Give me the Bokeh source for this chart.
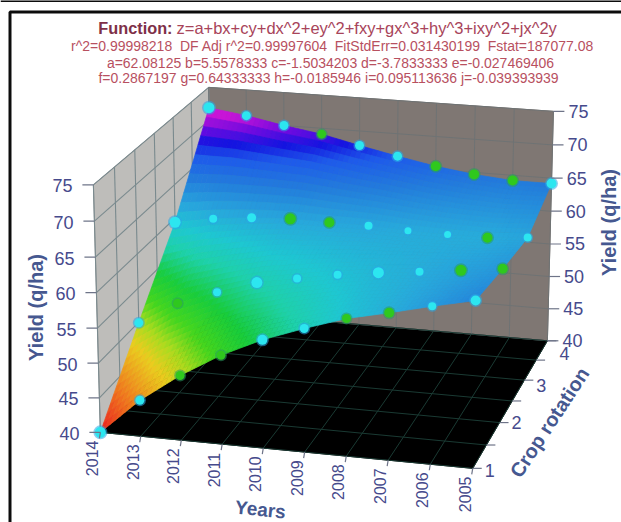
import numpy as np
from bokeh.plotting import figure
from bokeh.models import Range1d
from bokeh.core.properties import value
from bokeh.embed import file_html
from bokeh.resources import INLINE

# ---------- data ----------
years = [2014, 2013, 2012, 2011, 2010, 2009, 2008, 2007, 2006, 2005]
rotations = [1, 2, 3, 4]
z_ticks = [40, 45, 50, 55, 60, 65, 70, 75]
yield_rot1 = [40.0, 45.2, 49.3, 52.7, 55.4, 57.5, 59.4, 60.7, 62.1, 63.4]
yield_rot2 = [49.9, 53.3, 55.4, 57.3, 58.4, 59.4, 60.2, 60.8, 61.5, 62.2]
yield_rot3 = [59.4, 60.4, 61.0, 61.3, 61.2, 61.2, 60.9, 60.8, 60.8, 61.3]
yield_rot4 = [71.9, 71.1, 70.0, 69.1, 67.8, 66.6, 65.5, 64.7, 64.2, 64.2]
title_main = "z=a+bx+cy+dx^2+ey^2+fxy+gx^3+hy^3+ixy^2+jx^2y"
title_lines = [
    "r^2=0.99998218\u00a0\u00a0DF Adj r^2=0.99997604\u00a0\u00a0FitStdErr=0.031430199\u00a0\u00a0Fstat=187077.08",
    "a=62.08125 b=5.5578333 c=-1.5034203 d=-3.7833333 e=-0.027469406",
    "f=0.2867197 g=0.64333333 h=-0.0185946 i=0.095113636 j=-0.039393939",
]

# ---------- styles ----------
kind_rot1 = list("ccggccggcc")
kind_rot2 = list("cgccccccgg")
kind_rot3 = list("cccggcccgc")
kind_rot4 = list("cccgccgggc")
size_rot1 = [11, 9, 9, 9, 10, 9, 9, 10, 8, 10]
size_rot2 = [9, 9, 8, 11, 8, 8, 11, 8, 11, 10]
size_rot3 = [11, 8, 9, 11, 10, 8, 7, 7, 10, 8]
size_rot4 = [11, 9, 9, 9, 9, 9, 10, 10, 10, 10]
TEXT = "#464A8C"
TITLE_TEXT = "#465890"
RED_DARK = "#7E3048"
RED_MID = "#A8445A"
RED_LIGHT = "#B8505F"

# camera: where the corners of the box sit on the page
cal_world = [(0, 0, 0), (0, 0, 1), (9, 0, 0), (9, 3, 0), (9, 3, 1), (0, 3, 1)]
cal_px = [(100, 432), (93, 184), (472, 468), (547, 340), (553, 111), (208, 87)]
A, b = [], []
for (u, v, w), (x, y) in zip(cal_world, cal_px):
    A.append([u, v, w, 1, 0, 0, 0, 0, -x*u, -x*v, -x*w]); b.append(x)
    A.append([0, 0, 0, 0, u, v, w, 1, -y*u, -y*v, -y*w]); b.append(y)
sol = np.linalg.lstsq(np.array(A, float), np.array(b, float), rcond=None)[0]
P = np.append(sol, 1).reshape(3, 4)


def proj(u, v, z):
    """year index u, rotation index v, yield z -> page position"""
    w = (np.asarray(z, float) - 40) / 35
    u = np.asarray(u, float); v = np.asarray(v, float)
    hx = P[0, 0]*u + P[0, 1]*v + P[0, 2]*w + P[0, 3]
    hy = P[1, 0]*u + P[1, 1]*v + P[1, 2]*w + P[1, 3]
    hz = P[2, 0]*u + P[2, 1]*v + P[2, 2]*w + P[2, 3]
    return hx/hz, hy/hz


def seg(a, c):
    xa, ya = proj(*a)
    xc, yc = proj(*c)
    return [float(xa), float(xc)], [float(ya), float(yc)]


def poly(*pts):
    xy = [proj(*q) for q in pts]
    return [float(q[0]) for q in xy], [float(q[1]) for q in xy]


p = figure(width=621, height=522, x_range=Range1d(0, 621), y_range=Range1d(522, 0),
           output_backend="svg", toolbar_location=None, x_axis_type=None, y_axis_type=None,
           min_border=0, outline_line_color=None, background_fill_color="white",
           border_fill_color="white")
p.grid.visible = False

nu, nv = len(years) - 1, len(rotations) - 1

# frame
p.line([9.5, 9.5, 621], [522, 11.5, 11.5], line_color="#0c0c0c", line_width=3)
p.line([0, 621], [0.5, 0.5], line_color="#0c0c0c", line_width=2)

# walls and floor
xs, ys = poly((0, nv, 40), (nu, nv, 40), (nu, nv, 75), (0, nv, 75))
p.patch(xs, ys, fill_color="#7F7773", line_color="#7F7773")
xs, ys = poly((0, 0, 40), (0, nv, 40), (0, nv, 75), (0, 0, 75))
p.patch(xs, ys, fill_color="#BEBDBA", line_color="#9A9A9A")
xs, ys = poly((0, 0, 40), (nu, 0, 40), (nu, nv, 40), (0, nv, 40))
p.patch(xs, ys, fill_color="black", line_color="black")

# wall grids
half = np.arange(0, nv + 0.01, 0.5)
gx, gy = [], []
for v in half:
    a, c = seg((0, v, 40), (0, v, 75)); gx.append(a); gy.append(c)
for z in z_ticks:
    a, c = seg((0, 0, z), (0, nv, z)); gx.append(a); gy.append(c)
p.multi_line(gx, gy, line_color="#7A8A8E", line_width=1.1)
gx, gy = [], []
for u in range(nu + 1):
    a, c = seg((u, nv, 40), (u, nv, 75)); gx.append(a); gy.append(c)
for z in z_ticks:
    a, c = seg((0, nv, z), (nu, nv, z)); gx.append(a); gy.append(c)
p.multi_line(gx, gy, line_color="#6F7374", line_width=1)
# floor grid
gx, gy = [], []
for u in range(nu + 1):
    a, c = seg((u, 0, 40), (u, nv, 40)); gx.append(a); gy.append(c)
for v in half:
    a, c = seg((0, v, 40), (nu, v, 40)); gx.append(a); gy.append(c)
p.multi_line(gx, gy, line_color="#1A3A33", line_width=1)

# surface, shaded across each cell of the table
table = np.array([yield_rot1, yield_rot2, yield_rot3, yield_rot4])
stops_z = [40, 44, 48, 50, 52, 54.5, 57, 59, 61, 64, 66.5, 68, 69.5, 71]
stops_r = [235, 240, 235, 170, 70, 25, 30, 30, 40, 35, 30, 20, 110, 200]
stops_g = [30, 120, 205, 220, 215, 205, 210, 200, 170, 125, 90, 20, 10, 20]
stops_b = [30, 30, 30, 30, 30, 60, 170, 210, 220, 220, 235, 225, 225, 215]
sub_u, sub_v = 8, 12


def cell_z(fu, fv):
    iu = min(int(fu), nu - 1); iv = min(int(fv), nv - 1)
    du, dv = fu - iu, fv - iv
    return ((1-du)*(1-dv)*table[iv, iu] + du*(1-dv)*table[iv, iu+1]
            + (1-du)*dv*table[iv+1, iu] + du*dv*table[iv+1, iu+1])


sx, sy, sc = [], [], []
for iv in range(nv * sub_v - 1, -1, -1):
    for iu in range(nu * sub_u):
        corners = [(iu, iv), (iu+1, iv), (iu+1, iv+1), (iu, iv+1)]
        qx, qy, qz = [], [], []
        for cu, cv in corners:
            fu, fv = cu/sub_u, cv/sub_v
            z = cell_z(fu, fv)
            a, c = proj(fu, fv, z)
            qx.append(float(a)); qy.append(float(c)); qz.append(z)
        m = sum(qz)/4
        col = "#%02x%02x%02x" % (int(np.interp(m, stops_z, stops_r)),
                                 int(np.interp(m, stops_z, stops_g)),
                                 int(np.interp(m, stops_z, stops_b)))
        sx.append(qx); sy.append(qy); sc.append(col)
p.patches(sx, sy, fill_color=sc, line_color=sc, line_width=0.7)

# points
series = [(0, yield_rot1, kind_rot1, size_rot1), (1, yield_rot2, kind_rot2, size_rot2),
          (2, yield_rot3, kind_rot3, size_rot3), (3, yield_rot4, kind_rot4, size_rot4)]
for v, vals, kinds, sizes in series:
    for u, (z, k, s) in enumerate(zip(vals, kinds, sizes)):
        x, y = proj(u, v, z)
        x, y = float(x), float(y)
        core, halo = ("#2CE6F0", "#2AA8E8") if k == "c" else ("#2FC81E", "#2A9C60")
        p.scatter([x], [y], size=s + 3, fill_color=halo, fill_alpha=0.55, line_color=None)
        p.scatter([x], [y], size=s, fill_color=core, line_color=None)

# ticks and tick labels
font = value("Liberation Sans")
tx, ty = [], []
lab_x, lab_y, lab_t = [], [], []
rx, ry, rt = [], [], []
for z in z_ticks:
    x, y = proj(0, 0, z); x, y = float(x), float(y)
    tx.append([x - 11, x]); ty.append([y, y])
    lab_x.append(x - 31); lab_y.append(y + 1); lab_t.append(str(z))
    x, y = proj(nu, nv, z); x, y = float(x), float(y)
    tx.append([x, x + 11]); ty.append([y, y])
    rx.append(x + 25); ry.append(y); rt.append(str(z))
for v in half:
    x, y = proj(nu, v, 40); x, y = float(x), float(y)
    tx.append([x, x + 9]); ty.append([y, y])
yx, yy, yt = [], [], []
for u, yr in enumerate(years):
    x, y = proj(u, 0, 40); x, y = float(x), float(y)
    tx.append([x, x - 1]); ty.append([y, y + 6])
    yx.append(x - 8); yy.append(y + 26); yt.append(str(yr))
p.multi_line(tx, ty, line_color="#6E7488", line_width=1.2)

p.text(lab_x, lab_y, text=lab_t, text_font=font, text_font_size="18px", text_color=TEXT,
       text_align="center", text_baseline="middle")
p.text(rx, ry, text=rt, text_font=font, text_font_size="18px", text_color=TEXT,
       text_align="center", text_baseline="middle")
p.text(yx, yy, text=yt, text_font=font, text_font_size="16px", text_color=TEXT,
       text_align="center", text_baseline="middle", angle=np.pi/2)
rot_dy = [2, 0, 5, 13]
for i, r in enumerate(rotations):
    x, y = proj(nu, i, 40)
    p.text([float(x) + 17], [float(y) + rot_dy[i]], text=[str(r)], text_font=font,
           text_font_size="18px", text_color=TEXT, text_align="center", text_baseline="middle")

# axis titles
for tx0, ty0, txt, ang, sz in [(35, 307, "Yield (q/ha)", np.pi/2, "20px"),
                               (608, 222, "Yield (q/ha)", np.pi/2, "20px"),
                               (260, 509, "Years", -0.10, "19px"),
                               (549, 422, "Crop rotation", 0.99, "20px")]:
    p.text([tx0], [ty0], text=[txt], text_font=font, text_font_style="bold", text_font_size=sz,
           text_color=TITLE_TEXT, text_align="center", text_baseline="middle", angle=ang)

# title block
p.text([172], [27], text=["Function:"], text_font=font, text_font_style="bold", text_font_size="16.3px",
       text_color=RED_DARK, text_align="right", text_baseline="middle")
p.text([176], [27], text=[title_main], text_font=font, text_font_size="16.5px",
       text_color=RED_MID, text_align="left", text_baseline="middle")
for yy0, xc, line in zip([45, 62, 77], [332, 330, 328], title_lines):
    p.text([xc], [yy0], text=[line], text_font=font, text_font_size="14px",
           text_color=RED_LIGHT, text_align="center", text_baseline="middle")

open("out.html", "w").write(file_html(p, INLINE))
